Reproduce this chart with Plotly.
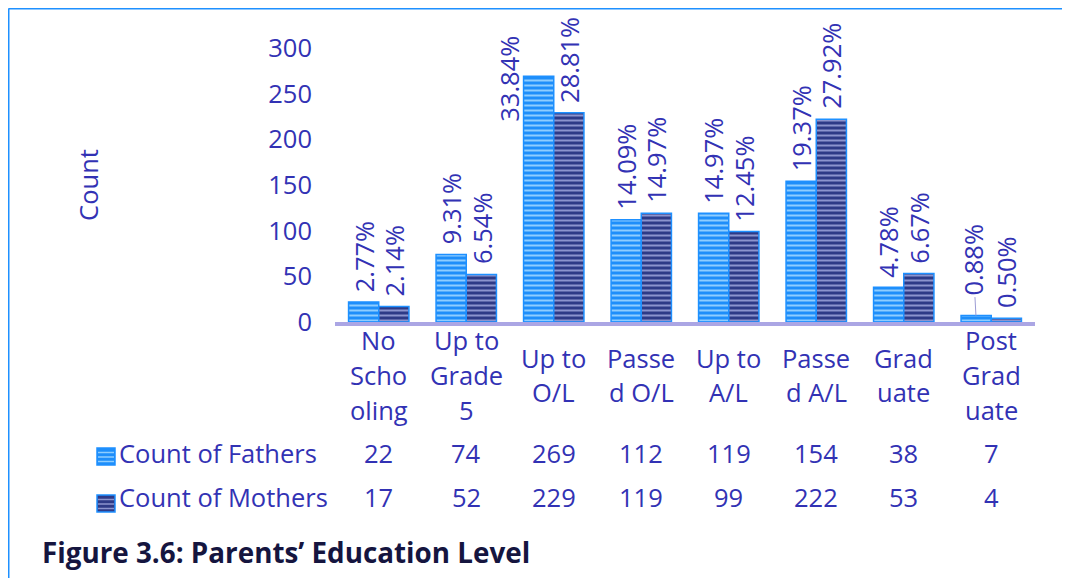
import plotly.graph_objects as go

# ---------------- data ----------------
categories = ["No Schooling", "Up to Grade 5", "Up to O/L", "Passed O/L",
              "Up to A/L", "Passed A/L", "Graduate", "Post Graduate"]
category_labels = ["No<br>Scho<br>oling", "Up to<br>Grade<br>5", "Up to<br>O/L", "Passe<br>d O/L",
                   "Up to<br>A/L", "Passe<br>d A/L", "Grad<br>uate", "Post<br>Grad<br>uate"]
fathers = [22, 74, 269, 112, 119, 154, 38, 7]
mothers = [17, 52, 229, 119, 99, 222, 53, 4]
fathers_pct = ["2.77%", "9.31%", "33.84%", "14.09%", "14.97%", "19.37%", "4.78%", "0.88%"]
mothers_pct = ["2.14%", "6.54%", "28.81%", "14.97%", "12.45%", "27.92%", "6.67%", "0.50%"]
series_names = ["Count of Fathers", "Count of Mothers"]
y_ticks = [0, 50, 100, 150, 200, 250, 300]
caption = "Figure 3.6: Parents’ Education Level"

# ---------------- layout constants ----------------
OFF = 8                      # page body margin of the browser
W, H = 1070 - OFF, 578 - OFF
L, R, T, B = 327, 35, 40, 256
PW, PH = W - L - R, H - T - B
FONT = "Open Sans"
TXT = "#3232B4"
FS = 25.5


def px_x(px):   # px given in screenshot coordinates
    return (px - OFF - L) / PW


def px_y(py):
    return (H - B - (py - OFF)) / PH


fig = go.Figure()
fig.add_trace(go.Bar(
    x=categories, y=fathers, name=series_names[0],
    marker=dict(color="#1E8EFA", line=dict(color="#1E90FF", width=1.5),
                pattern=dict(shape="-", bgcolor="#1E8EFA", fgcolor="#8ECDFF",
                             size=5, solidity=0.4, fillmode="replace")),
))
fig.add_trace(go.Bar(
    x=categories, y=mothers, name=series_names[1],
    marker=dict(color="#2E3A87", line=dict(color="#1E90FF", width=1.5),
                pattern=dict(shape="-", bgcolor="#2E3A87", fgcolor="#8C94CE",
                             size=5, solidity=0.4, fillmode="replace")),
))

annotations = []
half = 15.3
# data labels (rotated percentages)
for i, c in enumerate(categories):
    for s, (vals, pct, off) in enumerate([(fathers, fathers_pct, -half), (mothers, mothers_pct, half)]):
        a = dict(x=c, y=vals[i], xref="x", yref="y", text=pct[i], textangle=-90,
                 xanchor="center", yanchor="bottom", xshift=off, yshift=8,
                 showarrow=False, font=dict(family=FONT, size=FS, color=TXT))
        if s == 0 and i == 2:
            a.update(yanchor="middle", yshift=-2, xshift=off - 29)
        if s == 0 and i == 7:
            a.update(showarrow=True, ax=-3, ay=-56, arrowhead=0, arrowwidth=1,
                     arrowcolor="#9C9CD4", standoff=0, yanchor="middle", yshift=0)
        annotations.append(a)

# category labels (one annotation per wrapped line, Excel-like line spacing)
LINE = 35
for c, lab in zip(categories, category_labels):
    lines = lab.split("<br>")
    y0 = 375 - (len(lines) - 1) * LINE / 2
    for k, ln in enumerate(lines):
        annotations.append(dict(x=c, y=px_y(y0 + k * LINE), xref="x", yref="paper", text=ln,
                                showarrow=False, xanchor="center", yanchor="middle",
                                font=dict(family=FONT, size=FS, color=TXT)))

# data table rows
for vals, row_y in [(fathers, 453), (mothers, 497)]:
    for c, v in zip(categories, vals):
        annotations.append(dict(x=c, y=px_y(row_y), xref="x", yref="paper", text=str(v),
                                showarrow=False, xanchor="center", yanchor="middle",
                                font=dict(family=FONT, size=FS, color=TXT)))

# table legend texts
for name, row_y in zip(series_names, [453, 497]):
    annotations.append(dict(x=px_x(117), y=px_y(row_y), xref="paper", yref="paper", text=name,
                            showarrow=False, xanchor="left", yanchor="middle",
                            font=dict(family=FONT, size=FS, color=TXT)))

shapes = []
# legend keys
for (top, bot), bg, fg in [((448, 465), "#1E8EFA", "#8ECDFF"), ((495, 512), "#2E3A87", "#8C94CE")]:
    shapes.append(dict(type="rect", xref="paper", yref="paper",
                       x0=px_x(97), x1=px_x(115), y0=px_y(bot), y1=px_y(top),
                       fillcolor=bg, line=dict(color="#1E90FF", width=1.5)))
    for k in range(3):
        yy = top + 4.5 + k * 4.5
        shapes.append(dict(type="line", xref="paper", yref="paper",
                           x0=px_x(98), x1=px_x(114), y0=px_y(yy), y1=px_y(yy),
                           line=dict(color=fg, width=1.5)))
# frame lines (top & left)
shapes.append(dict(type="line", xref="paper", yref="paper",
                   x0=px_x(8.5), x1=px_x(1075), y0=px_y(8.5), y1=px_y(8.5),
                   line=dict(color="#1E90FF", width=2)))
shapes.append(dict(type="line", xref="paper", yref="paper",
                   x0=px_x(8.5), x1=px_x(8.5), y0=px_y(8.5), y1=px_y(585),
                   line=dict(color="#1E90FF", width=2)))

fig.update_layout(
    width=W, height=H,
    margin=dict(l=L, r=R, t=T, b=B, autoexpand=False),
    paper_bgcolor="white", plot_bgcolor="white",
    barmode="group", bargap=0.31, bargroupgap=0,
    showlegend=False,
    font=dict(family=FONT, size=FS, color=TXT),
    title=dict(text="<b>" + caption + "</b>", xref="container", yref="container",
               x=(42 - OFF) / W, y=1 - (553 - OFF) / H, xanchor="left", yanchor="middle",
               font=dict(family=FONT, size=27.8, color="#15153F")),
    xaxis=dict(type="category", showline=True, linecolor="#ABA6E4", linewidth=4,
               showticklabels=False, ticks="", showgrid=False, zeroline=False),
    yaxis=dict(range=[0, 300], tickvals=y_ticks, showline=False, showgrid=False,
               zeroline=False, ticks="", ticklabelstandoff=22,
               tickfont=dict(family=FONT, size=FS, color=TXT),
               title=dict(text="Count", standoff=162,
                          font=dict(family=FONT, size=FS, color=TXT))),
    annotations=annotations,
    shapes=shapes,
)

fig.write_html("out.html")
